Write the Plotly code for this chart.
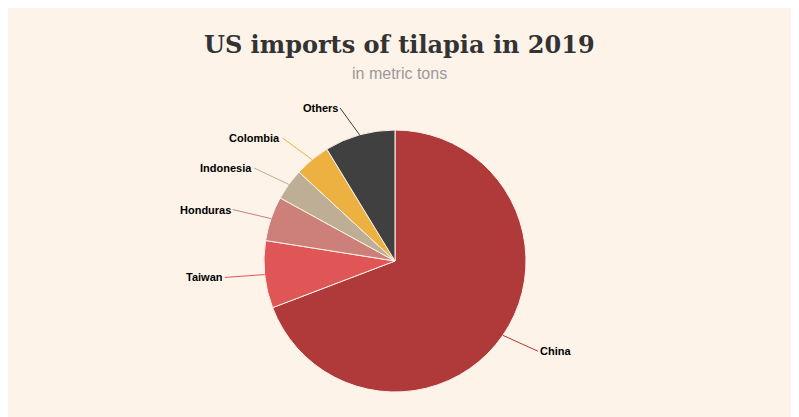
import numpy as np
import plotly.graph_objects as go

countries = ['China', 'Taiwan', 'Honduras', 'Indonesia', 'Colombia', 'Others']
tons = [151000, 18100, 12000, 8500, 9600, 19000]
colors = ['#b03a3a', '#e05555', '#cc8079', '#bfae96', '#edb142', '#404040']

W, H = 799, 417
off = 8  # page offset of the figure in the browser window
cx, cy, r = 395 - off, 261 - off, 131

fig = go.Figure(go.Pie(
    labels=countries, values=tons, sort=False, direction='clockwise', rotation=0,
    marker=dict(colors=colors, line=dict(color='#fdf3e9', width=1)),
    textinfo='none', hoverinfo='label+value', showlegend=False,
    domain=dict(x=[(cx - r) / W, (cx + r) / W], y=[(H - cy - r) / H, (H - cy + r) / H]),
))

# leader-line labels from the slice mid angles
tot = sum(tons)
cum = np.cumsum([0] + tons)
for i, name in enumerate(countries):
    th = 2 * np.pi * (cum[i] + tons[i] / 2) / tot
    ex, ey = cx + r * np.sin(th), cy - r * np.cos(th)
    side = 1 if np.sin(th) >= 0 else -1
    ax = 28 * np.sin(th) + side * 12
    ay = -28 * np.cos(th)
    fig.add_annotation(
        x=ex / W, y=1 - ey / H, xref='paper', yref='paper',
        ax=ax, ay=ay, showarrow=True, arrowhead=0, arrowwidth=1, arrowcolor=colors[i],
        text='<b>' + name + '</b>', xanchor='left' if side > 0 else 'right',
        font=dict(family='Liberation Sans, Arial', size=11, color='#000'),
        standoff=0, startstandoff=0,
    )

fig.update_layout(
    width=W, height=H, margin=dict(l=0, r=0, t=0, b=0),
    paper_bgcolor='#fdf3e9', plot_bgcolor='#fdf3e9',
    annotations=list(fig.layout.annotations) + [
        dict(text='<b>US imports of tilapia in 2019</b>', x=(W / 2 - off) / W, y=1 - (44 - off) / H,
             xref='paper', yref='paper', showarrow=False, yanchor='middle',
             font=dict(family='DejaVu Serif, Georgia, serif', size=24, color='#333')),
        dict(text='in metric tons', x=(W / 2 - off) / W, y=1 - (73 - off) / H, xref='paper', yref='paper',
             showarrow=False, yanchor='middle',
             font=dict(family='Liberation Sans, Arial', size=16, color='#999')),
    ],
)

fig.write_html('out.html')
